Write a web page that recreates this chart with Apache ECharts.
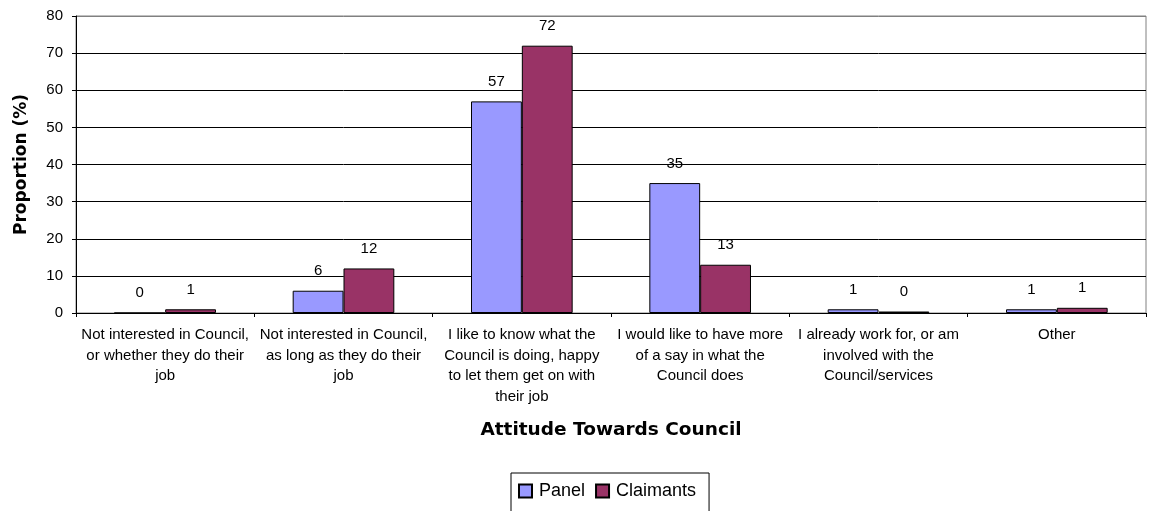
<!DOCTYPE html>
<html>
<head>
<meta charset="utf-8">
<script src="https://cdn.jsdelivr.net/npm/echarts@6/dist/echarts.min.js"></script>
<style>html,body{margin:0;padding:0;background:#fff}#c{width:1151px;height:511px}</style>
</head>
<body>
<div id="c"></div>
<script>
const categories = [
  "Not interested in Council,\nor whether they do their\njob",
  "Not interested in Council,\nas long as they do their\njob",
  "I like to know what the\nCouncil is doing, happy\nto let them get on with\ntheir job",
  "I would like to have more\nof a say in what the\nCouncil does",
  "I already work for, or am\ninvolved with the\nCouncil/services",
  "Other"
];
const panel = [0, 6, 57, 35, 1, 1];
const claimants = [1, 12, 72, 13, 0.4, 1.4];
const yTicks = [0, 10, 20, 30, 40, 50, 60, 70, 80];

const font = 'Arial, "Liberation Sans", sans-serif';
const boldFont = '"DejaVu Sans", Arial, sans-serif';
const chart = echarts.init(document.getElementById('c'), null, {renderer: 'canvas'});
const lbl = {show: true, position: 'top', distance: 12, color: '#000', fontSize: 15, fontFamily: font,
  formatter: p => String(Math.round(p.value))};
chart.setOption({
  animation: false,
  grid: {left: 76, right: 5, top: 16, bottom: 198, show: true, borderColor: '#808080', borderWidth: 1,
    containLabel: false, outerBoundsMode: 'none'},
  legend: {
    data: ['Panel', 'Claimants'], top: 473, left: 511, itemWidth: 13, itemHeight: 13, itemGap: 10,
    borderColor: '#000', borderWidth: 1, padding: [9, 13, 14, 7],
    textStyle: {fontSize: 18, fontFamily: font, color: '#000', padding: [0, 0, 0, 2]},
    icon: 'rect'
  },
  xAxis: {
    type: 'category', data: categories,
    name: 'Attitude Towards Council', nameLocation: 'middle', nameGap: 108,
    nameTextStyle: {fontSize: 18.5, fontWeight: 'bold', fontFamily: boldFont, color: '#000'},
    axisLine: {lineStyle: {color: '#000'}},
    axisTick: {show: true, length: 4, lineStyle: {color: '#000'}},
    axisLabel: {interval: 0, fontSize: 15, fontFamily: font, color: '#000', lineHeight: 20.5, margin: 12}
  },
  yAxis: {
    type: 'value', min: yTicks[0], max: yTicks[yTicks.length - 1], interval: 10,
    name: 'Proportion (%)', nameLocation: 'middle', nameGap: 46,
    nameTextStyle: {fontSize: 17, fontWeight: 'bold', fontFamily: boldFont, color: '#000'},
    axisLine: {show: true, lineStyle: {color: '#000'}},
    axisTick: {show: true, length: 4, lineStyle: {color: '#000'}},
    axisLabel: {fontSize: 15, fontFamily: font, color: '#000', margin: 13},
    splitLine: {show: true, lineStyle: {color: ['#000','#000','#000','#000','#000','#000','#000','#000','#808080'], width: 1}}
  },
  series: [
    {name: 'Panel', type: 'bar', data: panel, barGap: '0%', barCategoryGap: '43%',
      itemStyle: {color: '#9999FF', borderColor: '#000', borderWidth: 1}, label: lbl},
    {name: 'Claimants', type: 'bar', data: claimants,
      itemStyle: {color: '#993366', borderColor: '#000', borderWidth: 1}, label: lbl}
  ]
});
</script>
</body>
</html>
